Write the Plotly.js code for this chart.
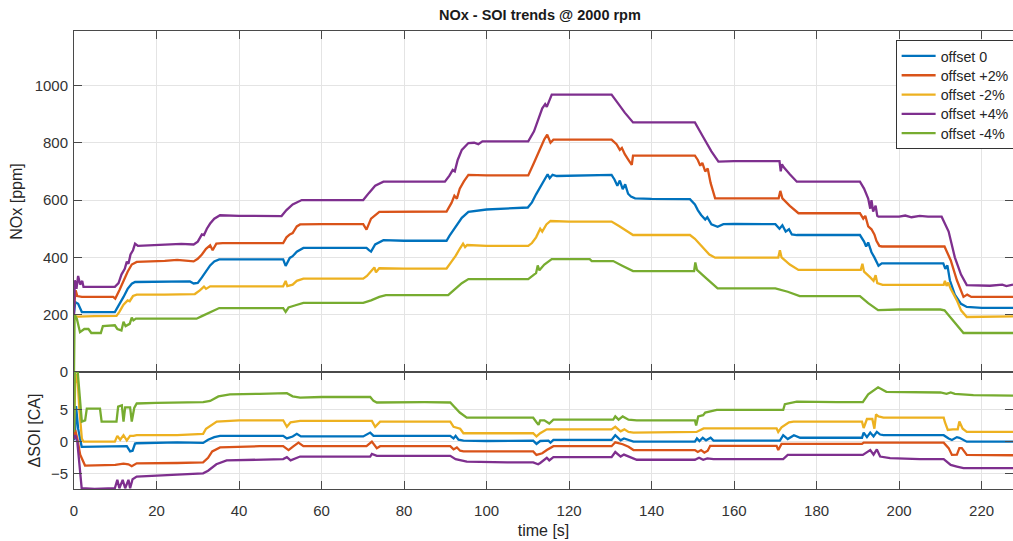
<!DOCTYPE html>
<html>
<head>
<meta charset="utf-8">
<script src="https://cdn.plot.ly/plotly-3.0.1.min.js"></script>
<style>html,body{margin:0;padding:0;background:#fff;}#chart{width:1013px;height:541px;}</style>
</head>
<body>
<div id="chart"></div>
<script>
// ---------- data: [time (s), value] pairs ----------
const seriesNames = ['offset 0', 'offset +2%', 'offset -2%', 'offset +4%', 'offset -4%'];
const seriesColors = ['#0072BD', '#D95319', '#EDB120', '#7E2F8E', '#77AC30'];

const xTicks = [0, 20, 40, 60, 80, 100, 120, 140, 160, 180, 200, 220];
const noxTicks = [0, 200, 400, 600, 800, 1000];
const soiTicks = [-5, 0, 5];

// NOx [ppm]
const nox_offset0 = [[0,205],[0.3,244],[1.0,238],[1.9,209],[9.9,209],[11,235],[12,262],[13,290],[14,308],[14.8,314],[22,316],[28.1,316],[29,309],[30,311],[31,330],[32,352],[33,372],[34,386],[35.2,393],[45,393],[50.7,393],[51.3,370],[52.3,398],[53,404],[54,420],[55.6,433],[65,433],[70.9,433],[71.5,425],[72,420],[73,445],[75,460],[80,458],[90.3,458],[91,475],[92,497],[93,520],[94,538],[95.6,559],[100,567],[110,574],[111,592],[112,620],[113,645],[114,665],[114.8,690],[115.3,676],[116,688],[117,684],[125,685],[130.3,688],[131,672],[131.7,650],[132.3,668],[133,638],[133.6,655],[134.3,622],[135,612],[136,606],[140,604],[149.3,603],[150.5,585],[151.2,565],[152,548],[153,532],[153.5,540],[154.5,515],[156,507],[157.4,516],[160,517],[165,516],[170,516],[171,500],[171.7,512],[172.5,490],[173.3,498],[174,480],[175.2,478],[185,478],[190.5,478],[191.5,455],[192,438],[192.5,452],[193.3,418],[194,400],[195,371],[195.8,379],[205,379],[210.7,379],[211.2,360],[211.7,372],[212.3,320],[213.5,270],[215,238],[216.4,227],[220,224],[227.6,224]];
const nox_plus2 = [[0,230],[0.4,285],[0.8,265],[1.9,262],[9.5,262],[10,256],[11,285],[12,320],[13,350],[14,375],[15.2,384],[22,388],[25,391],[29,386],[30,395],[31,410],[32,430],[33,442],[33.6,425],[34.5,448],[36,450],[50.7,450],[51.5,470],[52.3,480],[53,485],[54,508],[54.8,515],[60,516],[70.1,516],[70.9,497],[72,535],[74,559],[80,560],[90.3,560],[91.5,590],[92.2,615],[92.8,605],[93.5,640],[94.5,665],[95.6,688],[100,686],[110.1,686],[111.5,730],[113,780],[114,812],[114.7,828],[115.5,800],[116.2,811],[125,811],[130.3,811],[131.5,795],[132.3,775],[132.8,782],[133.5,760],[134.5,738],[135.2,723],[135.5,755],[140,755],[150.5,755],[151.2,740],[151.8,720],[152.3,730],[153,700],[153.6,710],[154.3,660],[155.4,606],[165,606],[170.8,606],[171.2,632],[171.7,606],[173.5,580],[175.6,554],[185,554],[190.5,554],[191.3,535],[191.8,545],[192.5,508],[193.3,498],[194,480],[194.5,458],[195.2,440],[195.8,438],[205,438],[211,438],[212.5,390],[214,320],[215.6,262],[216.5,270],[217.5,262],[227.6,262]];
const nox_minus2 = [[0,195],[1,193],[5,195],[10.3,196],[11,210],[12,235],[13,250],[13.5,247],[14.3,265],[15.2,270],[22,270],[29.3,272],[30.5,285],[31.5,298],[32,290],[33,299],[40,299],[50.7,299],[51.3,318],[51.7,300],[53,305],[54,318],[55.6,326],[65,326],[70.1,326],[71,335],[72,350],[72.8,365],[73.2,348],[74,362],[80,361],[90.3,361],[91.5,385],[92.5,405],[93.5,430],[94.3,448],[94.8,436],[95.3,443],[100,440],[110.1,440],[111,450],[112,470],[113,500],[113.5,490],[114.5,515],[115.5,527],[120,525],[130.3,525],[132,510],[134,490],[135.5,478],[140,478],[149.3,478],[150.5,465],[152,440],[154,410],[155.4,399],[165,399],[170.7,399],[171.1,425],[171.5,400],[173.5,375],[175.6,356],[185,356],[190.7,356],[191.1,378],[191.5,350],[193,330],[193.8,318],[194.3,338],[194.7,310],[196,304],[205,304],[210.8,304],[211.1,318],[211.5,300],[211.9,312],[212.5,290],[214,250],[215,215],[216.4,192],[220,192],[227.6,194]];
const nox_plus4 = [[0,200],[0.2,320],[0.6,290],[1.0,335],[1.5,305],[2.0,318],[2.3,297],[9.9,297],[10.8,310],[11.5,340],[12.3,360],[12.8,385],[13.2,378],[13.7,410],[14.3,425],[14.8,448],[15.5,440],[20,443],[24,445],[26,447],[29,445],[30,455],[31,480],[31.5,478],[32.2,500],[33,518],[34,535],[35.4,547],[40,545],[45,544],[50.3,544],[51.5,565],[53,585],[55.2,600],[65,600],[70.1,600],[71.5,625],[73,650],[75,664],[80,664],[89.9,664],[91,685],[91.8,705],[92.3,700],[93,740],[94,775],[95.6,799],[97,800],[98,795],[99,805],[105,805],[110.1,805],[111.5,840],[112.5,880],[113.5,920],[114.2,935],[114.6,925],[115.8,968],[125,968],[130.3,968],[132,935],[133.5,905],[135.5,871],[140,871],[150.5,871],[152.5,820],[154.5,770],[156.2,734],[160,736],[171,736],[171.3,700],[171.6,725],[172,715],[173.5,690],[175.2,664],[185,664],[190.5,664],[191.5,640],[192.5,605],[193,570],[193.3,600],[193.7,560],[194.3,580],[194.7,545],[195,542],[200,542],[201.5,546],[203,540],[205,545],[207,542],[210.3,542],[212,490],[213.5,400],[215,340],[216.4,303],[222,301],[225,305],[226,300],[227.6,305]];
const nox_minus4 = [[0,0],[0.15,200],[0.7,185],[1.45,139],[2.5,150],[3.5,150],[4.2,136],[6.5,136],[7,160],[9.9,163],[10.5,150],[11.5,145],[12,175],[12.5,160],[13.5,168],[14,190],[14.4,180],[15,186],[22,186],[29.7,186],[31,195],[32.5,205],[33.5,214],[35.2,223],[45,223],[50.7,223],[51.3,210],[52,225],[53.5,232],[55.6,241],[65,241],[70.1,241],[72,250],[74,262],[75.6,268],[80,268],[90.7,268],[92,285],[94,310],[95.6,324],[105,324],[110.1,324],[111.5,340],[112,345],[112.4,372],[112.8,355],[114,375],[115.8,394],[120,394],[125,394],[125.5,387],[130.7,387],[133,370],[135.5,352],[145,352],[150.3,352],[150.6,382],[151,356],[153,330],[156,292],[165,292],[170,292],[173,280],[175.9,265],[185,265],[190.5,265],[192.5,240],[194.9,216],[200,218],[205,219],[210,218],[211,215],[213,180],[215.6,136],[220,136],[227.6,136]];

// ΔSOI [CA]
const soi_offset0 = [[0,0.2],[0.24,1.3],[0.5,5.5],[1.0,2.0],[1.86,-0.8],[10,-0.8],[12.8,-0.7],[13.6,-1.5],[14.2,-1.4],[14.8,-0.3],[15.2,-0.25],[25,-0.1],[31.3,-0.2],[32.5,0.3],[34,0.7],[35.4,0.9],[45,0.9],[50.7,0.9],[51.6,0.5],[53,0.8],[54,1.2],[55,0.8],[60,0.8],[70.1,0.8],[71.8,1.4],[72.6,0.9],[80,0.9],[90.3,0.9],[91.2,0.9],[92,0.5],[92.5,0.9],[93.2,0.3],[94.4,0.15],[100,0.1],[111.3,0.15],[112.1,-0.35],[113,0.1],[115,0.15],[115.5,-0.15],[116.2,0.26],[125,0.26],[130.3,0.26],[131.2,1.0],[132.5,0.2],[133.3,0.5],[135.6,0],[145,0],[150.5,0],[151,0.5],[151.6,0.1],[152.4,0.6],[153.2,0.2],[154.3,0.6],[155,0.15],[165,0.15],[171.1,0.15],[171.9,1.0],[173,0.4],[174.5,1.0],[176,0.6],[185,0.6],[191,0.6],[191.4,1.4],[192.2,0.7],[193,1.4],[193.8,0.8],[194.6,1.5],[195.4,1.1],[196.2,1.0],[205,1.0],[210.8,1.0],[212,0.5],[212.8,0.25],[214,0.7],[214.6,0.6],[216.4,0],[227.6,0]];
const soi_plus2 = [[0,0.5],[0.3,1.8],[0.8,0.5],[1.5,-2],[2.67,-3.7],[10,-3.6],[12,-3.4],[13.2,-3.5],[14,-3.8],[15.2,-3.35],[25,-3.3],[31.3,-3.2],[32.5,-2.5],[33.5,-1.5],[35.4,-0.9],[45,-0.7],[50.7,-0.7],[52,-1.3],[53,-0.8],[54.4,-0.15],[55.6,-0.7],[65,-0.7],[70.9,-0.7],[72.2,0],[73.4,-1.0],[74.2,-0.7],[85,-0.7],[91.2,-0.7],[92,-1.2],[92.8,-0.9],[93.6,-1.4],[94.4,-1.5],[100,-1.5],[111.3,-1.5],[112.1,-2.05],[113.5,-1.8],[114.6,-1.3],[116.2,-0.7],[125,-0.7],[130.3,-0.7],[131.2,-0.1],[133,-0.4],[134.4,-0.8],[135.6,-1.3],[145,-1.3],[150.5,-1.3],[151.2,-1.6],[152,-1.3],[152.8,-1.7],[153.6,-1.4],[154.2,-0.65],[160,-0.65],[170.3,-0.65],[170.7,-1.3],[171.5,-0.35],[180,-0.35],[191,-0.35],[191.4,-0.15],[200,-0.15],[210.8,-0.15],[212,-1.0],[212.8,-2.05],[214,-2.0],[214.6,-1.0],[215.2,-1.0],[216.4,-2.05],[227.6,-2.1]];
const soi_minus2 = [[0,2],[0.3,9],[0.8,10.5],[1.3,5],[1.9,0.5],[2.3,0],[9.9,0],[10.5,0.9],[11.2,0.3],[12,1.0],[12.8,0.2],[13.6,0.9],[14.4,0.9],[15.2,1.0],[25,1.0],[31.3,1.2],[32,2.0],[33,2.4],[34.6,3.1],[40,3.3],[50.7,3.3],[51.6,2.3],[52.5,3.0],[54.8,3.2],[65,3.2],[72.2,3.2],[73,2.3],[74.2,3.1],[85,3.1],[91.2,3.1],[92,2.3],[93.6,2.0],[94.4,1.3],[105,1.3],[111.3,1.3],[112.1,0.8],[113,1.3],[114.6,1.9],[116.2,1.9],[125,1.9],[130.3,1.9],[131.2,2.3],[132.5,1.6],[133.4,1.9],[134.4,1.5],[135.6,1.4],[145,1.4],[150.5,1.4],[150.9,1.5],[152.6,2.05],[160,2.05],[170.3,2.05],[170.7,1.5],[171.5,2.2],[173.3,3.0],[174.4,3.1],[185,3.1],[191,3.1],[191.4,2.1],[192.2,3.5],[193.5,3.5],[194,2.0],[194.4,4.2],[195,3.9],[196.2,3.7],[205,3.7],[210.8,3.7],[211.1,3.0],[211.8,1.8],[213,1.9],[214.2,1.9],[214.6,3.1],[215.4,2.0],[216.4,1.5],[227.6,1.5]];
const soi_plus4 = [[0,0.5],[0.3,1.0],[0.8,0],[1.5,-5],[1.86,-7.2],[5,-7.3],[9.9,-7.2],[10.5,-5.9],[11,-7.2],[11.8,-5.9],[12.4,-7.2],[13.2,-5.9],[13.6,-7.2],[14.2,-5.8],[15.2,-5.4],[25,-5.1],[31.3,-4.9],[32.5,-4.5],[34.5,-3.5],[37,-2.9],[45,-2.8],[50.7,-2.7],[51.6,-2.4],[52.5,-2.9],[54.8,-2.3],[65,-2.3],[71.8,-2.3],[72.2,-1.9],[73.4,-2.2],[85,-2.2],[91.2,-2.2],[92.5,-2.7],[95.2,-3.1],[105,-3.2],[111.3,-3.2],[112.5,-3.5],[113,-3.3],[114.6,-2.5],[115.2,-2.9],[116.2,-2.4],[125,-2.4],[130.3,-2.4],[131.2,-1.6],[132.5,-2.3],[133.3,-2.0],[136.4,-2.8],[145,-2.8],[150.5,-2.8],[151.5,-2.5],[152.5,-2.8],[153.5,-2.6],[155,-2.7],[165,-2.7],[171.9,-2.7],[173,-2.05],[180,-2.05],[191.2,-2.05],[193,-1.3],[193.8,-2.0],[194.6,-1.2],[195.4,-2.3],[197.8,-2.55],[205,-2.7],[210.8,-2.7],[212.5,-3.6],[214,-3.85],[215.6,-4.1],[227.6,-4.1]];
const soi_minus4 = [[0,1.5],[0.2,10.8],[0.9,10.8],[1.2,8],[1.9,3.1],[2.7,3.3],[3.1,5.1],[6.3,5.1],[6.7,3.1],[10.3,3.1],[10.7,5.4],[11.6,5.6],[12,3.1],[12.4,5.3],[13.6,5.3],[14,3.1],[14.6,5.2],[15.2,5.9],[20,6.0],[31.3,6.1],[32.2,6.2],[33,6.3],[35,7.0],[37.8,7.3],[45,7.4],[50.7,7.4],[51.6,7.5],[53,7.0],[54.8,6.8],[60,6.9],[71.8,6.9],[72.6,6.3],[73.4,6.05],[85,6.1],[91.2,6.05],[92,5.5],[93.5,4.5],[95.2,3.7],[105,3.7],[111.3,3.7],[112.1,3.0],[112.6,2.6],[113,3.3],[114,3.3],[115.2,2.8],[116.2,3.4],[125,3.4],[130.7,3.4],[131.2,3.9],[132,3.4],[133,3.9],[134.4,3.4],[136.4,3.3],[145,3.3],[150.5,3.3],[150.8,2.5],[151.3,3.9],[152.5,4.1],[153,4.5],[155.8,4.9],[165,4.9],[171.9,4.9],[172.3,5.8],[174,6.0],[175.2,6.2],[185,6.1],[191.2,6.1],[192.5,7.3],[194,8.0],[194.9,8.4],[196.9,7.7],[205,7.7],[210,7.6],[211.5,7.4],[212.5,7.6],[213.5,7.4],[215,7.3],[218,7.2],[227.6,7.1]];

const noxSeries = [nox_offset0, nox_plus2, nox_minus2, nox_plus4, nox_minus4];
const soiSeries = [soi_offset0, soi_plus2, soi_minus2, soi_plus4, soi_minus4];

// ---------- traces ----------
const traces = [];
noxSeries.forEach((s, i) => {
  traces.push({
    type: 'scatter', mode: 'lines', name: seriesNames[i],
    x: s.map(p => p[0]), y: s.map(p => p[1]),
    xaxis: 'x', yaxis: 'y',
    line: {color: seriesColors[i], width: 2.3},
    showlegend: true, hoverinfo: 'skip'
  });
});
soiSeries.forEach((s, i) => {
  traces.push({
    type: 'scatter', mode: 'lines', name: seriesNames[i],
    x: s.map(p => p[0]), y: s.map(p => p[1]),
    xaxis: 'x2', yaxis: 'y2',
    line: {color: seriesColors[i], width: 2.3},
    showlegend: false, hoverinfo: 'skip'
  });
});

const axisLine = '#4a4a4a';
const gridCol = '#e4e4e4';
const tickFont = {family: 'Liberation Sans, Arial, sans-serif', size: 15, color: '#333333'};
const common = {
  showline: true, linecolor: axisLine, linewidth: 1, mirror: 'ticks',
  ticks: 'inside', ticklen: 8, tickwidth: 1, tickcolor: axisLine,
  showgrid: true, gridcolor: gridCol, gridwidth: 1, zeroline: false,
  tickfont: tickFont, fixedrange: true, automargin: false
};
const split = 0.2555;

const layout = {
  width: 1013, height: 541,
  margin: {l: 74, r: 0, t: 31, b: 52, autoexpand: false},
  paper_bgcolor: '#ffffff', plot_bgcolor: '#ffffff',
  font: {family: 'Liberation Sans, Arial, sans-serif', size: 15, color: '#262626'},
  title: {
    text: '<b>NOx - SOI trends @ 2000 rpm</b>',
    x: 0.533, xanchor: 'center', xref: 'container',
    y: 0.972, yanchor: 'middle', yref: 'container',
    font: {size: 14.5, color: '#1a1a1a'}
  },
  showlegend: true,
  legend: {
    x: 0.875, y: 0.98, xanchor: 'left', yanchor: 'top',
    bgcolor: '#ffffff', bordercolor: '#333333', borderwidth: 1,
    font: {size: 14.3, color: '#262626'}, tracegroupgap: 0, itemwidth: 34
  },
  xaxis: Object.assign({}, common, {
    domain: [0, 1], anchor: 'y', range: [0, 227.6],
    tickvals: xTicks, showticklabels: false
  }),
  xaxis2: Object.assign({}, common, {
    domain: [0, 1], anchor: 'y2', range: [0, 227.6], matches: 'x',
    tickvals: xTicks, ticktext: xTicks.map(String), ticklabelstandoff: 8,
    title: {text: 'time [s]', font: {size: 16, color: '#262626'}, standoff: 6}
  }),
  yaxis: Object.assign({}, common, {
    domain: [split, 1], anchor: 'x', range: [0, 1190],
    tickvals: noxTicks, ticklabelstandoff: 2,
    title: {text: 'NOx [ppm]', font: {size: 16, color: '#262626'}, standoff: 8}
  }),
  yaxis2: Object.assign({}, common, {
    domain: [0, split], anchor: 'x2', range: [-7.32, 10.77],
    tickvals: soiTicks, ticklabelstandoff: 2,
    title: {text: 'ΔSOI [CA]', font: {size: 16, color: '#262626'}, standoff: 6}
  })
};

Plotly.newPlot('chart', traces, layout, {displayModeBar: false, staticPlot: true}).then(gd => {
  // tighten legend row spacing to match the reference (rows ~19 px apart)
  try {
    const items = gd.querySelectorAll('.legend .traces');
    if (items.length > 1) {
      const getY = el => {
        const m = /translate\(\s*([-\d.]+)[ ,]+([-\d.]+)\s*\)/.exec(el.getAttribute('transform') || '');
        return m ? [parseFloat(m[1]), parseFloat(m[2])] : null;
      };
      const p0 = getY(items[0]), p1 = getY(items[1]);
      if (p0 && p1) {
        const oldGap = p1[1] - p0[1];
        const newGap = 19.3;
        items.forEach((el, i) => {
          const p = getY(el);
          if (p) el.setAttribute('transform', 'translate(' + p[0] + ',' + (p0[1] - 1 + i * newGap) + ')');
        });
        const bg = gd.querySelector('.legend .bg');
        if (bg) {
          const h = parseFloat(bg.getAttribute('height'));
          bg.setAttribute('height', h - (oldGap - newGap) * (items.length - 1) - 2);
        }
      }
    }
  } catch (e) {}
});
</script>
</body>
</html>
